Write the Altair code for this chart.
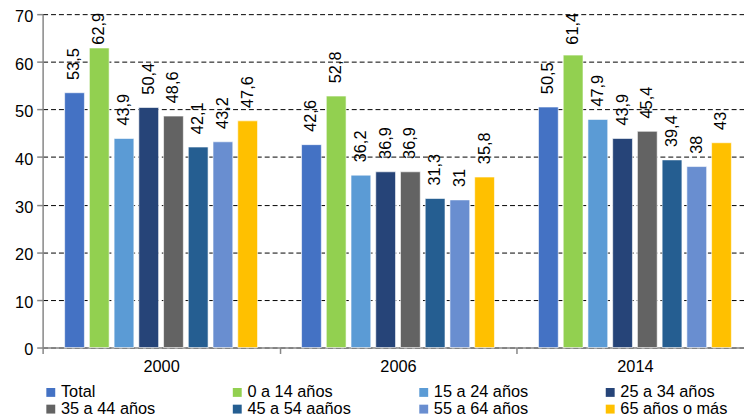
import altair as alt
import pandas as pd

years = ["2000", "2006", "2014"]
groups = ["Total", "0 a 14 años", "15 a 24 años", "25 a 34 años",
          "35 a 44 años", "45 a 54 aaños", "55 a 64 años", "65 años o más"]
colors = ["#4472C4", "#92D050", "#5B9BD5", "#264478",
          "#636363", "#255E91", "#698ED0", "#FFC000"]
v2000 = [53.5, 62.9, 43.9, 50.4, 48.6, 42.1, 43.2, 47.6]
v2006 = [42.6, 52.8, 36.2, 36.9, 36.9, 31.3, 31.0, 35.8]
v2014 = [50.5, 61.4, 47.9, 43.9, 45.4, 39.4, 38.0, 43.0]
y_ticks = [0, 10, 20, 30, 40, 50, 60, 70]

rows = []
for yr, vals in zip(years, [v2000, v2006, v2014]):
    for g, v in zip(groups, vals):
        lab = f"{v:.1f}"
        if lab.endswith(".0"):
            lab = lab[:-2]
        rows.append({"year": yr, "group": g, "value": v, "label": lab.replace(".", ",")})
df = pd.DataFrame(rows)

FONT = "Liberation Sans"

base = alt.Chart(df).encode(
    x=alt.X("year:N", sort=years,
            scale=alt.Scale(range=[0, 718.5], paddingInner=0, paddingOuter=0),
            axis=alt.Axis(title=None, labelAngle=0, tickBand="extent",
                          domainColor="#868686", domainWidth=1.5,
                          tickColor="#868686", tickWidth=1.5, tickSize=6,
                          labelFontSize=16.5, labelColor="black", labelPadding=5,
                          grid=False)),
    xOffset=alt.XOffset("group:N", sort=groups,
                        scale=alt.Scale(paddingInner=0.2, paddingOuter=0.89)),
)

yscale = alt.Scale(domain=[0, 70], nice=False)

bars = base.mark_bar(stroke="white", strokeWidth=1, strokeOpacity=0.6).encode(
    y=alt.Y("value:Q", scale=yscale, axis=alt.Axis(title=None, values=y_ticks)),
    color=alt.Color("group:N", sort=groups,
                    scale=alt.Scale(domain=groups, range=colors),
                    legend=alt.Legend(title=None, orient="none", legendX=0, legendY=374,
                                      direction="horizontal", columns=4,
                                      gridAlign="all", columnPadding=61.5, rowPadding=-1,
                                      symbolType="square", symbolSize=81,
                                      symbolStrokeWidth=0, labelFontSize=16.5,
                                      labelColor="black", labelOffset=2,
                                      labelLimit=0, padding=0)),
)

text = base.transform_calculate(ly="min(datum.value, 60.9)").mark_text(
    angle=270, align="left", baseline="middle", dx=13, fontSize=16.5, color="black"
).encode(
    y=alt.Y("ly:Q", scale=yscale, axis=alt.Axis(title=None, values=y_ticks)),
    text="label:N",
)

chart = alt.layer(bars, text).properties(
    width=709, height=337,
    autosize=alt.AutoSizeParams(type="none"),
    padding={"left": 35, "top": 4, "right": 0, "bottom": 69},
).configure(font=FONT).configure_view(stroke=None).configure_axisY(
    domainColor="#868686", domainWidth=1.5, tickColor="#868686", tickWidth=1.5,
    tickSize=6, labelFontSize=16.5, labelColor="black", labelPadding=4,
    labelOffset=2.5,
    grid=True, gridColor="black", gridDash=[5, 3], gridWidth=1, gridOpacity=1,
)

chart.save("out.html", embed_options={"renderer": "svg", "actions": False})
